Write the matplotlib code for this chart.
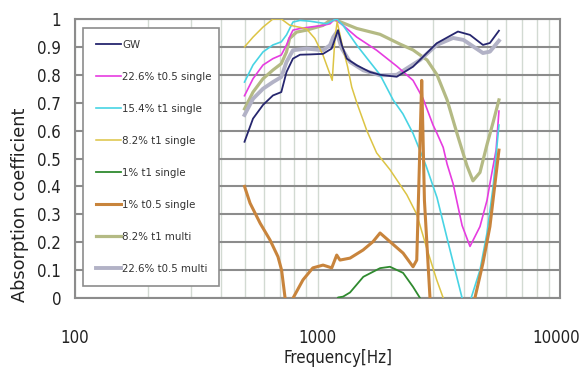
import matplotlib
matplotlib.use('Agg')
import matplotlib.pyplot as plt
from matplotlib import font_manager
from matplotlib.transforms import ScaledTranslation
from matplotlib.ticker import FixedLocator, NullFormatter

# pick the narrowest sans font that is around
names = {f.name for f in font_manager.fontManager.ttflist}
cond = [f for f in font_manager.fontManager.ttflist
        if f.name == 'DejaVu Sans' and 'condensed' in str(f.stretch).lower() and f.weight in (400, 'normal')]
if 'Liberation Sans Narrow' in names:
    NARROW = {'family': 'Liberation Sans Narrow', 'stretch': 'normal', 'scale': 1.0}
elif cond:
    NARROW = {'family': 'DejaVu Sans', 'stretch': 'condensed', 'scale': 0.93}
else:
    NARROW = {'family': 'Liberation Sans', 'stretch': 'normal', 'scale': 0.9}

# data
gw_f = [500, 542, 596, 655, 709, 745, 792, 847, 931, 1054, 1144, 1200, 1215, 1259, 1320,
        1452, 1645, 1811, 2122, 2477, 3101, 3794, 4254, 4811, 5140, 5600]
gw_a = [0.56, 0.643, 0.692, 0.726, 0.738, 0.81, 0.858, 0.872, 0.873, 0.875, 0.894, 0.947, 0.96,
        0.907, 0.858, 0.834, 0.81, 0.80, 0.793, 0.829, 0.913, 0.955, 0.943, 0.907, 0.914, 0.958]

s226_f = [500, 542, 596, 655, 709, 745, 767, 792, 847, 931, 1054, 1126, 1180, 1275, 1452,
          1753, 2128, 2477, 2724, 2995, 3110, 3298, 3423, 3623, 3947, 4254, 4677, 5000, 5140,
          5450, 5600]
s226_a = [0.725, 0.786, 0.835, 0.858, 0.871, 0.907, 0.935, 0.96, 0.966, 0.971, 0.977, 0.983,
          1.0, 0.977, 0.935, 0.888, 0.83, 0.78, 0.715, 0.62, 0.59, 0.54, 0.48, 0.41, 0.26,
          0.185, 0.256, 0.35, 0.41, 0.53, 0.67]

s154_f = [500, 542, 596, 655, 709, 745, 792, 847, 931, 1091, 1180, 1200, 1275, 1452, 1645,
          1811, 2050, 2250, 2477, 2800, 3110, 3500, 3947, 4100, 4300, 4677, 5000, 5300, 5600]
s154_a = [0.774, 0.835, 0.882, 0.907, 0.918, 0.943, 0.989, 0.995, 0.992, 0.983, 0.998, 1.0,
          0.977, 0.906, 0.846, 0.80, 0.71, 0.66, 0.59, 0.475, 0.36, 0.18, 0.0, -0.06, 0.0,
          0.10, 0.233, 0.40, 0.62]

s82_f = [500, 542, 596, 655, 709, 767, 847, 900, 975, 1054, 1150, 1180, 1205, 1277, 1330,
         1384, 1452, 1597, 1753, 1990, 2335, 2566, 2818, 3101, 3300, 3450]
s82_a = [0.90, 0.935, 0.971, 1.0, 1.0, 0.978, 0.97, 0.965, 0.93, 0.87, 0.78, 0.93, 0.99,
         0.89, 0.83, 0.756, 0.70, 0.60, 0.52, 0.46, 0.37, 0.30, 0.18, 0.065, 0.0, -0.05]

s1t1_f = [1180, 1215, 1275, 1362, 1545, 1811, 1990, 2254, 2477, 2647, 2720]
s1t1_a = [-0.02, 0.002, 0.005, 0.02, 0.076, 0.107, 0.112, 0.09, 0.04, 0.0, -0.03]

s1t05_f = [500, 527, 580, 637, 687, 711, 735, 760, 793, 871, 957, 1054, 1145, 1200, 1238,
           1362, 1541, 1694, 1811, 1990, 2254, 2477, 2566, 2690, 2720, 2760, 2910, 3500,
           4200, 4457, 4810, 5140, 5600]
s1t05_a = [0.40, 0.34, 0.268, 0.208, 0.148, 0.10, 0.0, -0.04, 0.0, 0.065, 0.108, 0.118,
           0.108, 0.154, 0.136, 0.143, 0.172, 0.202, 0.233, 0.202, 0.161, 0.112, 0.136,
           0.78, 0.6, 0.35, 0.0, -0.3, -0.1, 0.0, 0.125, 0.256, 0.53]

m82_f = [500, 542, 596, 655, 709, 745, 767, 820, 900, 1054, 1144, 1200, 1452, 1811, 2188,
         2477, 2831, 3110, 3423, 3760, 4130, 4375, 4677, 5000, 5300, 5600]
m82_a = [0.678, 0.738, 0.786, 0.817, 0.84, 0.882, 0.93, 0.953, 0.96, 0.977, 1.0, 0.995,
         0.966, 0.945, 0.91, 0.889, 0.853, 0.80, 0.71, 0.59, 0.475, 0.42, 0.45, 0.55, 0.63,
         0.71]

m226_f = [500, 542, 596, 655, 709, 745, 792, 900, 1054, 1126, 1161, 1200, 1259, 1362, 1545,
          1811, 2122, 2647, 3101, 3623, 4000, 4811, 5140, 5600]
m226_a = [0.656, 0.714, 0.75, 0.774, 0.792, 0.846, 0.888, 0.894, 0.888, 0.906, 0.935, 0.953,
          0.894, 0.846, 0.816, 0.798, 0.80, 0.853, 0.907, 0.932, 0.925, 0.878, 0.883, 0.922]

y_ticks = [0, 0.1, 0.2, 0.3, 0.4, 0.5, 0.6, 0.7, 0.8, 0.9, 1]
y_labels = ['0', '0.1', '0.2', '0.3', '0.4', '0.5', '0.6', '0.7', '0.8', '0.9', '1']
x_ticks = [100, 1000, 10000]
x_labels = ['100', '1000', '10000']

fig = plt.figure(figsize=(5.82, 3.76), dpi=100)
ax = fig.add_axes([0.1289, 0.2074, 0.8333, 0.7421])

series = [
    (gw_f, gw_a, 'GW', '#26266e', 1.3, 5),
    (s226_f, s226_a, '22.6% t0.5 single', '#e63ce0', 1.2, 3),
    (s154_f, s154_a, '15.4% t1 single', '#48d4e4', 1.2, 3),
    (s82_f, s82_a, '8.2% t1 single', '#dcc444', 1.1, 3),
    (s1t1_f, s1t1_a, '1% t1 single', '#2f8a2f', 1.3, 3),
    (s1t05_f, s1t05_a, '1% t0.5 single', '#c8843c', 2.2, 3),
    (m82_f, m82_a, '8.2% t1 multi', '#b4ba84', 2.3, 2),
    (m226_f, m226_a, '22.6% t0.5 multi', '#b2b2c6', 2.8, 2),
]
for f, a, name, col, lw, z in series:
    ax.plot(f, a, color=col, lw=lw, label=name, zorder=z)

ax.set_xscale('log')
ax.set_xlim(100, 10000)
ax.set_ylim(0, 1)

minor = [v * d for d in (100, 1000) for v in range(2, 10)]
ax.xaxis.set_minor_locator(FixedLocator(minor))
ax.xaxis.set_minor_formatter(NullFormatter())
ax.set_xticks(x_ticks)
ax.set_xticklabels(x_labels)
ax.set_yticks(y_ticks)
ax.set_yticklabels(y_labels)

ax.grid(axis='x', which='both', color='#d2dad2', lw=1.0, zorder=0)
ax.grid(axis='y', which='major', color='#8c8c8c', lw=1.5, zorder=1)
ax.set_axisbelow(True)
ax.tick_params(axis='both', which='both', length=0)
ax.tick_params(axis='x', pad=22)
ax.tick_params(axis='y', pad=10)
sc = NARROW['scale']
for lab in ax.get_xticklabels() + ax.get_yticklabels():
    lab.set_family(NARROW['family'])
    lab.set_stretch(NARROW['stretch'])
    lab.set_fontsize(13 * sc)
    lab.set_color('#222222')
# keep "10000" inside the canvas
last = ax.get_xticklabels()[-1]
last.set_transform(last.get_transform() + ScaledTranslation(-4 / 100, 0, fig.dpi_scale_trans))
for s in ax.spines.values():
    s.set_color('#8c8c8c')
    s.set_linewidth(1.5)

leg = ax.legend(loc='upper left', bbox_to_anchor=(0.0165, 0.968, 0.28, 0.0), mode='expand',
                prop={'family': NARROW['family'], 'stretch': NARROW['stretch'], 'size': 8.8 * sc},
                labelspacing=1.93, handlelength=2.2, handletextpad=0.15, borderpad=1.1,
                borderaxespad=0, fancybox=False, framealpha=1)
leg.get_frame().set_edgecolor('#8c8c8c')
leg.get_frame().set_linewidth(1.2)
for t in leg.get_texts():
    t.set_color('#333333')

fig.text(0.034, 0.455, 'Absorption coefficient', rotation=90, ha='center', va='center',
         fontsize=12.8, color='#222222')
fig.text(0.581, 0.048, 'Frequency[Hz]', ha='center', va='center', fontsize=13 * sc,
         family=NARROW['family'], stretch=NARROW['stretch'], color='#222222')

fig.savefig('out.png', dpi=100)
